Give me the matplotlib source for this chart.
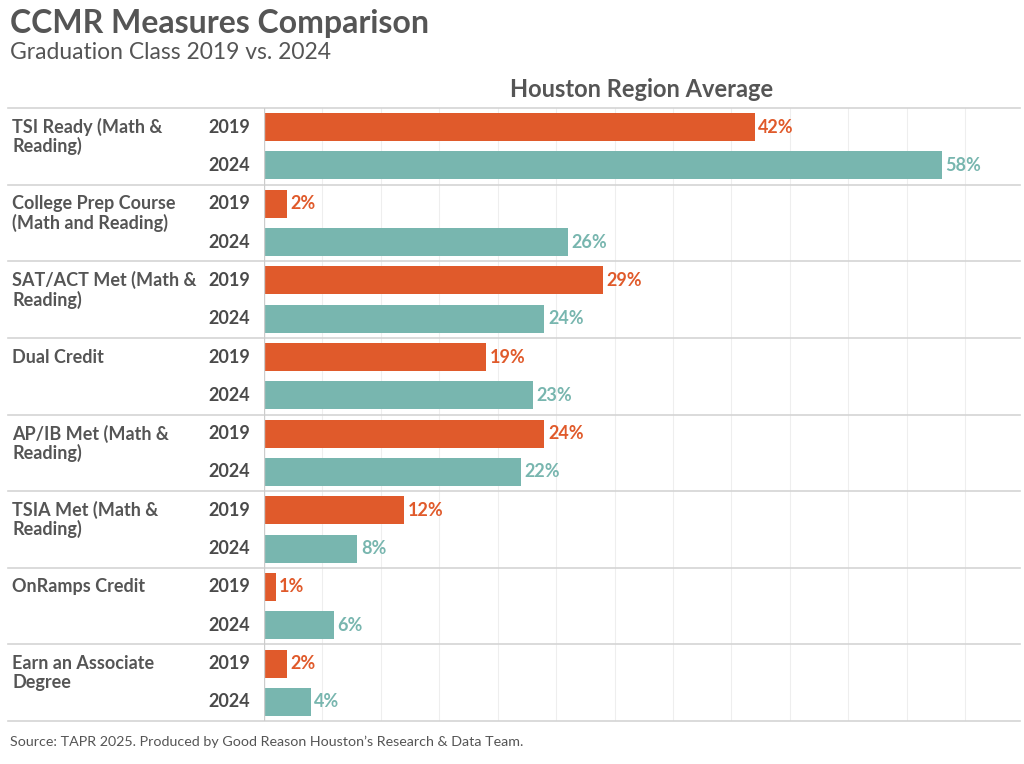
import matplotlib.pyplot as plt

# Dati
categories = ["TSI Ready (Math &\nReading)", "College Prep Course\n(Math and Reading)",
              "SAT/ACT Met (Math &\nReading)", "Dual Credit", "AP/IB Met (Math &\nReading)",
              "TSIA Met (Math &\nReading)", "OnRamps Credit", "Earn an Associate\nDegree"]
years = ["2019", "2024"]
values_2019 = [42, 2, 29, 19, 24, 12, 1, 2]
values_2024 = [58, 26, 24, 23, 22, 8, 6, 4]

orange = '#E05A2B'
teal = '#78B6AF'
text_gray = '#555555'

plt.rcParams['font.family'] = ['Lato', 'DejaVu Sans']

fig = plt.figure(figsize=(10.24, 7.64), dpi=100)
ax = fig.add_axes([264 / 1024, 1 - 721 / 764, 756 / 1024, 613 / 764])

n = len(categories)
y19 = [i + 0.25 for i in range(n)]
y24 = [i + 0.75 for i in range(n)]
bar_h = 0.366

ax.barh(y19, values_2019, height=bar_h, color=orange, zorder=3)
ax.barh(y24, values_2024, height=bar_h, color=teal, zorder=3)

# Etichette dei valori
for y, v in zip(y19, values_2019):
    ax.text(v + 0.3, y, f'{v}%', va='center', ha='left', color=orange,
            fontsize=13, fontweight='bold')
for y, v in zip(y24, values_2024):
    ax.text(v + 0.3, y, f'{v}%', va='center', ha='left', color=teal,
            fontsize=13, fontweight='bold')

ax.set_xlim(0, 64.7)
ax.set_ylim(n, 0)

# Griglia verticale
for x in range(5, 65, 5):
    ax.axvline(x, color='#eeeeee', lw=0.8, zorder=1)
ax.axvline(0, color='#cccccc', lw=1, zorder=4)

# Linee di separazione tra i gruppi
trans = ax.get_yaxis_transform()
for i in range(n + 1):
    ax.plot([-0.3386, 1], [i, i], transform=trans, color='#d4d4d4', lw=1.2,
            clip_on=False, zorder=2)

# Etichette delle categorie e degli anni
for i, cat in enumerate(categories):
    for k, line in enumerate(cat.split('\n')):
        ax.text(-0.3333, y19[i] + k * 0.25, line, transform=trans, ha='left', va='center',
                fontsize=13, fontweight='bold', color=text_gray)
    ax.text(-0.0185, y19[i], years[0], transform=trans, ha='right', va='center',
            fontsize=13, fontweight='bold', color='#4a4a4a')
    ax.text(-0.0185, y24[i], years[1], transform=trans, ha='right', va='center',
            fontsize=13, fontweight='bold', color='#4a4a4a')

for s in ax.spines.values():
    s.set_visible(False)
ax.set_xticks([])
ax.set_yticks([])

ax.text(0.5, 1.012, 'Houston Region Average', transform=ax.transAxes, ha='center',
        va='bottom', fontsize=17, fontweight='bold', color=text_gray)

fig.text(10 / 1024, 1 - 9 / 764, 'CCMR Measures Comparison', ha='left', va='top',
         fontsize=23, fontweight='bold', color=text_gray)
fig.text(10 / 1024, 1 - 42 / 764, 'Graduation Class 2019 vs. 2024', ha='left', va='top',
         fontsize=16.5, color=text_gray)
fig.text(10 / 1024, 1 - 742 / 764, "Source: TAPR 2025. Produced by Good Reason Houston\u2019s Research & Data Team.",
         ha='left', va='center', fontsize=10.3, color=text_gray)

fig.savefig('out.png', dpi=100)
